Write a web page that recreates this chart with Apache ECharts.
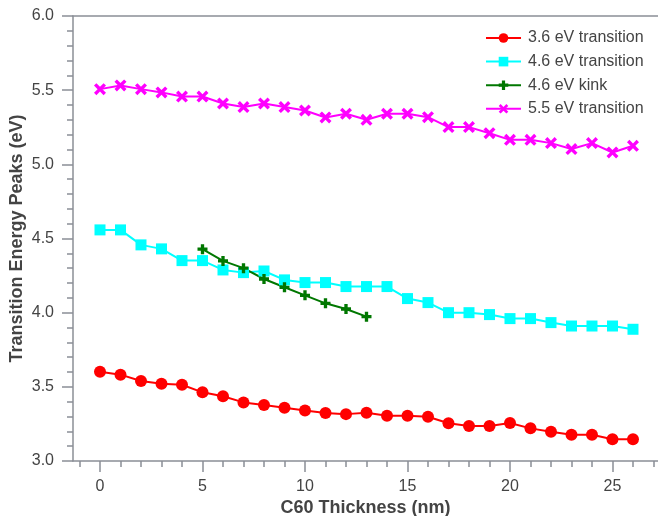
<!DOCTYPE html>
<html>
<head>
<meta charset="utf-8">
<script src="https://cdn.jsdelivr.net/npm/echarts@6/dist/echarts.min.js"></script>
<style>html,body{margin:0;padding:0;background:#fff}#c{width:658px;height:516px}</style>
</head>
<body>
<div id="c"></div>
<script>
const thickness = [0,1,2,3,4,5,6,7,8,9,10,11,12,13,14,15,16,17,18,19,20,21,22,23,24,25,26];
const kinkThickness = [5,6,7,8,9,10,11,12,13];
const t36 = [3.602,3.582,3.539,3.521,3.514,3.463,3.436,3.395,3.377,3.359,3.341,3.323,3.316,3.325,3.305,3.305,3.298,3.254,3.236,3.236,3.256,3.220,3.197,3.177,3.177,3.146,3.146];
const t46 = [4.558,4.558,4.457,4.430,4.351,4.351,4.288,4.270,4.281,4.221,4.203,4.203,4.176,4.176,4.176,4.095,4.068,4.000,4.000,3.987,3.960,3.960,3.933,3.910,3.910,3.910,3.888];
const k46 = [4.428,4.349,4.300,4.227,4.171,4.117,4.063,4.025,3.973];
const t55 = [5.507,5.532,5.507,5.485,5.457,5.457,5.410,5.386,5.410,5.386,5.363,5.316,5.341,5.300,5.341,5.341,5.318,5.251,5.251,5.210,5.165,5.165,5.143,5.103,5.143,5.080,5.125];
const seriesNames = ['3.6 eV transition','4.6 eV transition','4.6 eV kink','5.5 eV transition'];
const xMajorTicks = [0,5,10,15,20,25];
const xMinorTicks = [-1,0,1,2,3,4,5,6,7,8,9,10,11,12,13,14,15,16,17,18,19,20,21,22,23,24,25,26,27];

const pair = (xs, ys) => xs.map((x, i) => [x, ys[i]]);
const FONT = 'Liberation Sans, Arial, sans-serif';
const AX = '#8b8f96';
const TXT = '#444444';
const plusPath = 'path://M3,0H6V3H9V6H6V9H3V6H0V3H3Z';
const xPath = 'path://M2,0L5,3L8,0L10,2L7,5L10,8L8,10L5,7L2,10L0,8L3,5L0,2Z';
const xMin = -1.317, xMax = 27.22;

const chart = echarts.init(document.getElementById('c'), null, {renderer: 'canvas'});
chart.setOption({
  animation: false,
  grid: {left: 73, right: 0, top: 16, bottom: 55, containLabel: false, outerBoundsMode: 'none'},
  legend: {
    orient: 'vertical', left: 480, top: 25, itemWidth: 35, itemHeight: 12, itemGap: 7.6,
    data: seriesNames,
    textStyle: {fontFamily: FONT, fontSize: 16, color: TXT, padding: [0,0,0,2]}
  },
  xAxis: [
    {
      type: 'value', position: 'bottom', min: xMin, max: xMax,
      name: 'C60 Thickness (nm)', nameLocation: 'middle', nameGap: 38, nameMoveOverlap: false,
      nameTextStyle: {fontFamily: FONT, fontSize: 18, fontWeight: 'bold', color: TXT},
      axisLine: {show: true, onZero: false, lineStyle: {color: AX, width: 1.5}},
      axisTick: {show: true, length: 11, customValues: xMajorTicks, lineStyle: {color: AX, width: 1.5}},
      axisLabel: {show: true, customValues: xMajorTicks, margin: 18, fontFamily: FONT, fontSize: 16, color: TXT},
      splitLine: {show: false}
    },
    {
      type: 'value', position: 'bottom', offset: 0, min: xMin, max: xMax,
      axisLine: {show: false, onZero: false},
      axisTick: {show: true, length: 6, customValues: xMinorTicks, lineStyle: {color: AX, width: 1.5}},
      axisLabel: {show: false},
      splitLine: {show: false}
    },
    {
      type: 'value', position: 'top', min: xMin, max: xMax,
      axisLine: {show: true, onZero: false, lineStyle: {color: AX, width: 1.5}},
      axisTick: {show: false}, axisLabel: {show: false}, splitLine: {show: false}
    }
  ],
  yAxis: {
    type: 'value', min: 3, max: 6, interval: 0.5,
    name: 'Transition Energy Peaks (eV)', nameLocation: 'middle', nameGap: 47, nameMoveOverlap: false,
    nameTextStyle: {fontFamily: FONT, fontSize: 18, fontWeight: 'bold', color: TXT},
    axisLine: {show: true, onZero: false, lineStyle: {color: AX, width: 1.5}},
    axisTick: {show: true, length: 11, lineStyle: {color: AX, width: 1.5}},
    minorTick: {show: true, splitNumber: 5, length: 6, lineStyle: {color: AX, width: 1.5}},
    axisLabel: {margin: 19, fontFamily: FONT, fontSize: 16, color: TXT, formatter: v => v.toFixed(1)},
    splitLine: {show: false}
  },
  series: [
    {name: seriesNames[0], type: 'line', xAxisIndex: 0, data: pair(thickness, t36),
     symbol: 'circle', symbolSize: 12, itemStyle: {color: '#ff0000'}, lineStyle: {color: '#ff0000', width: 2}},
    {name: seriesNames[1], type: 'line', xAxisIndex: 0, data: pair(thickness, t46),
     symbol: 'rect', symbolSize: 11, itemStyle: {color: '#00ffff'}, lineStyle: {color: '#00ffff', width: 2}},
    {name: seriesNames[2], type: 'line', xAxisIndex: 0, data: pair(kinkThickness, k46),
     symbol: plusPath, symbolSize: 10, itemStyle: {color: '#007700'}, lineStyle: {color: '#007700', width: 2}},
    {name: seriesNames[3], type: 'line', xAxisIndex: 0, data: pair(thickness, t55),
     symbol: xPath, symbolSize: 12, itemStyle: {color: '#ff00ff'}, lineStyle: {color: '#ff00ff', width: 2}}
  ]
});
</script>
</body>
</html>
